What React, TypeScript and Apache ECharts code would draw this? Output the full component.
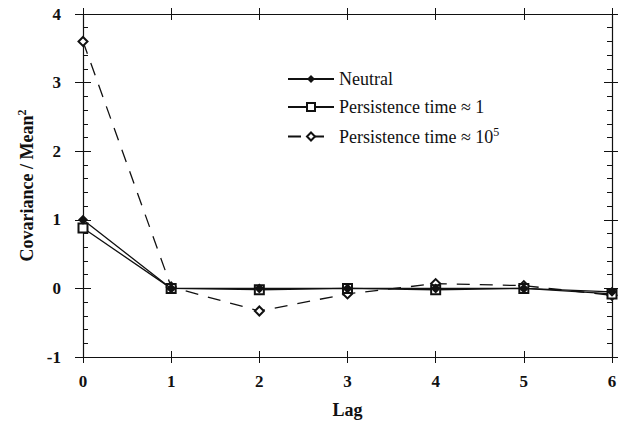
import React, { useEffect, useRef } from "react";
import * as echarts from "echarts";

const lags = [0, 1, 2, 3, 4, 5, 6];
const neutral = [1.0, 0.0, 0.0, 0.0, 0.0, 0.0, -0.05];
const persist1 = [0.88, 0.0, -0.02, 0.0, -0.02, 0.0, -0.08];
const persist1e5 = [3.6, 0.02, -0.33, -0.08, 0.07, 0.04, -0.1];
const yTicks = [-1, 0, 1, 2, 3, 4];

const FONT = "Liberation Serif";

export default function App() {
  const ref = useRef<HTMLDivElement>(null);
  useEffect(() => {
    const chart = echarts.init(ref.current!, null, { renderer: "svg" });
    const pairs = (v: number[]) => lags.map((x, i) => [x, v[i]]);
    const lineC = "#111";
    const baseX = {
      type: "value" as const,
      min: 0,
      max: 6,
      interval: 1,
      splitLine: { show: false },
    };
    const baseY = {
      type: "value" as const,
      min: yTicks[0],
      max: yTicks[yTicks.length - 1],
      interval: 1,
      splitLine: { show: false },
    };
    const axLine = { show: true, onZero: false, lineStyle: { color: lineC, width: 1.2 } };
    const noLine = { show: false, onZero: false };
    const noLabel = { show: false };
    const tickOut = (len: number) => ({ show: true, inside: false, length: len, lineStyle: { color: lineC } });
    const tickIn = (len: number) => ({ show: true, inside: true, length: len, lineStyle: { color: lineC } });
    const minor = { show: true, splitNumber: 5, length: 5, lineStyle: { color: lineC } };
    chart.setOption({
      animation: false,
      backgroundColor: "#fff",
      grid: { left: 83, right: 12, top: 14, bottom: 64 },
      legend: {
        orient: "vertical",
        left: 287,
        top: 70,
        padding: 0,
        itemWidth: 46,
        itemHeight: 10,
        itemGap: 10,
        textStyle: {
          fontFamily: FONT,
          fontSize: 18,
          color: "#111",
          rich: {
            n: { fontFamily: FONT, fontSize: 18, color: "#111" },
            sup: { fontFamily: FONT, fontSize: 12, color: "#111", verticalAlign: "top", padding: [0, 0, 9, 0] },
          },
        },
        formatter: (name: string) => {
          if (name === "Persistence time ≈ 10^5") return "{n|Persistence time ≈ 10}{sup|5}";
          return "{n|" + name + "}";
        },
        data: ["Neutral", "Persistence time ≈ 1", "Persistence time ≈ 10^5"],
      },
      xAxis: [
        {
          ...baseX,
          position: "bottom",
          name: "Lag",
          nameLocation: "middle",
          nameGap: 44,
          nameTextStyle: { fontFamily: FONT, fontSize: 18, fontWeight: "bold", color: "#111" },
          axisLine: axLine,
          axisTick: tickOut(6),
          axisLabel: { fontFamily: FONT, fontSize: 17, fontWeight: "bold", color: "#111", margin: 16 },
        },
        {
          ...baseX,
          position: "bottom",
          axisLine: noLine,
          axisTick: tickIn(6),
          axisLabel: noLabel,
        },
        {
          ...baseX,
          position: "top",
          axisLine: axLine,
          axisTick: tickOut(6),
          axisLabel: noLabel,
        },
        {
          ...baseX,
          position: "top",
          axisLine: noLine,
          axisTick: tickIn(6),
          axisLabel: noLabel,
        },
      ],
      yAxis: [
        {
          ...baseY,
          position: "left",
          name: "{n|Covariance / Mean}{sup|2}",
          nameLocation: "middle",
          nameGap: 42,
          nameTextStyle: {
            fontFamily: FONT,
            fontSize: 18,
            fontWeight: "bold",
            color: "#111",
            rich: {
              n: { fontFamily: FONT, fontSize: 18, fontWeight: "bold", color: "#111" },
              sup: { fontFamily: FONT, fontSize: 12, fontWeight: "bold", color: "#111", verticalAlign: "top", padding: [0, 0, 9, 0] },
            },
          },
          axisLine: axLine,
          axisTick: tickOut(8),
          axisLabel: { fontFamily: FONT, fontSize: 17, fontWeight: "bold", color: "#111", margin: 22 },
        },
        {
          ...baseY,
          position: "left",
          axisLine: noLine,
          axisTick: tickIn(8),
          minorTick: minor,
          axisLabel: noLabel,
        },
        {
          ...baseY,
          position: "right",
          axisLine: axLine,
          axisTick: tickOut(6),
          axisLabel: noLabel,
        },
        {
          ...baseY,
          position: "right",
          axisLine: noLine,
          axisTick: tickIn(8),
          minorTick: minor,
          axisLabel: noLabel,
        },
      ],
      series: [
        {
          name: "Neutral",
          type: "line",
          data: pairs(neutral),
          symbol: "diamond",
          symbolSize: 10,
          itemStyle: { color: "#111" },
          lineStyle: { color: "#111", width: 1.3, type: "solid" },
          z: 4,
        },
        {
          name: "Persistence time ≈ 1",
          type: "line",
          data: pairs(persist1),
          symbol: "emptyRect",
          symbolSize: 9,
          itemStyle: { color: "#111", borderWidth: 1.3 },
          lineStyle: { color: "#111", width: 1.3, type: "solid" },
          z: 3,
        },
        {
          name: "Persistence time ≈ 10^5",
          type: "line",
          data: pairs(persist1e5),
          symbol: "emptyDiamond",
          symbolSize: 9,
          itemStyle: { color: "#111", borderWidth: 1.3 },
          lineStyle: { color: "#111", width: 1.3, type: [13, 10] },
          z: 2,
        },
      ],
    });
    return () => chart.dispose();
  }, []);
  return <div ref={ref} style={{ width: 624, height: 424, position: "absolute", left: 0, top: 0 }} />;
}
